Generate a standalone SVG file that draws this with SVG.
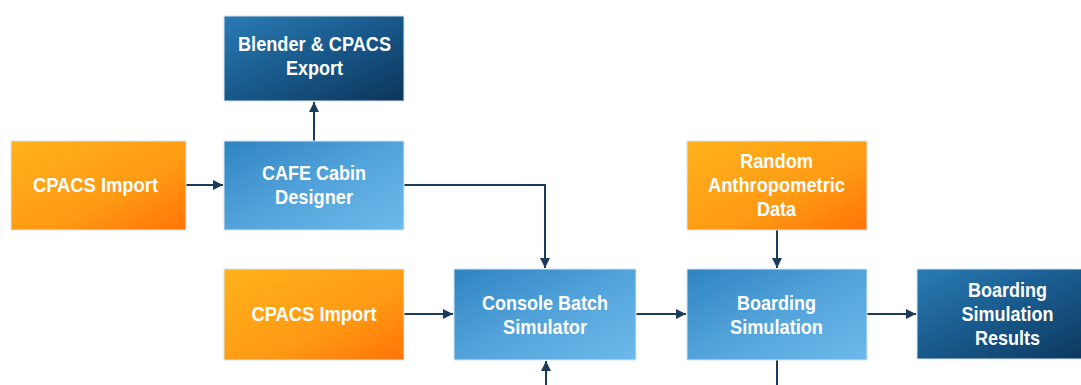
<svg xmlns="http://www.w3.org/2000/svg" width="1081" height="385" viewBox="0 0 1081 385">
<defs>
<linearGradient id="gOrange" x1="0" y1="0" x2="1" y2="1">
<stop offset="0" stop-color="#FFB21C"/>
<stop offset="0.6" stop-color="#FF9A14"/>
<stop offset="1" stop-color="#FF7408"/>
</linearGradient>
<linearGradient id="gLight" x1="0" y1="0" x2="1" y2="1">
<stop offset="0" stop-color="#2E84C0"/>
<stop offset="0.5" stop-color="#53A3DB"/>
<stop offset="1" stop-color="#6DBAEB"/>
</linearGradient>
<linearGradient id="gDark" x1="0" y1="0" x2="1" y2="1">
<stop offset="0" stop-color="#2A7CB4"/>
<stop offset="0.5" stop-color="#18588A"/>
<stop offset="1" stop-color="#0C355A"/>
</linearGradient>
<marker id="arr" viewBox="0 0 10 10" refX="10" refY="5" markerWidth="10" markerHeight="10" markerUnits="userSpaceOnUse" orient="auto">
<path d="M0,0 L10,5 L0,10 Z" fill="#1B3B5A"/>
</marker>
</defs>
<style>
.box{stroke:#d6e6f3;stroke-width:1}
.o{fill:url(#gOrange)}
.l{fill:url(#gLight)}
.d{fill:url(#gDark)}
text{font-family:"Liberation Sans",Arial,sans-serif;font-weight:bold;font-size:20.5px;fill:#ffffff;text-anchor:middle}
.c{fill:none;stroke:#1B3B5A;stroke-width:2}
</style>
<rect width="1081" height="385" fill="#ffffff"/>
<g id="connectors">
<path class="c" d="M186,185 L223,185" marker-end="url(#arr)"/>
<path class="c" d="M314,141 L314,102" marker-end="url(#arr)"/>
<path class="c" d="M404,185 L545,185 L545,268" marker-end="url(#arr)"/>
<path class="c" d="M404,314 L453,314" marker-end="url(#arr)"/>
<path class="c" d="M636,314 L686,314" marker-end="url(#arr)"/>
<path class="c" d="M777,230 L777,268" marker-end="url(#arr)"/>
<path class="c" d="M867,314 L916,314" marker-end="url(#arr)"/>
<path class="c" d="M546,385 L546,361" marker-end="url(#arr)"/>
<path class="c" d="M777,360 L777,385"/>
</g>
<g id="blender-export">
<rect class="box d" x="224" y="16" width="180" height="85"/>
<text x="314.5" y="51" textLength="153" lengthAdjust="spacingAndGlyphs">Blender &amp; CPACS</text>
<text x="314.5" y="75" textLength="57" lengthAdjust="spacingAndGlyphs">Export</text>
</g>
<g id="cpacs-import-1">
<rect class="box o" x="11" y="141" width="175" height="89"/>
<text x="95.5" y="192" textLength="125" lengthAdjust="spacingAndGlyphs">CPACS Import</text>
</g>
<g id="cafe-cabin-designer">
<rect class="box l" x="224" y="141" width="180" height="89"/>
<text x="314" y="180" textLength="104" lengthAdjust="spacingAndGlyphs">CAFE Cabin</text>
<text x="314" y="204" textLength="78" lengthAdjust="spacingAndGlyphs">Designer</text>
</g>
<g id="random-anthropometric-data">
<rect class="box o" x="687" y="141" width="180" height="89"/>
<text x="776.5" y="168" textLength="73" lengthAdjust="spacingAndGlyphs">Random</text>
<text x="776.5" y="192" textLength="137" lengthAdjust="spacingAndGlyphs">Anthropometric</text>
<text x="776.5" y="216" textLength="39" lengthAdjust="spacingAndGlyphs">Data</text>
</g>
<g id="cpacs-import-2">
<rect class="box o" x="224" y="269" width="180" height="91"/>
<text x="314" y="321" textLength="125" lengthAdjust="spacingAndGlyphs">CPACS Import</text>
</g>
<g id="console-batch-simulator">
<rect class="box l" x="454" y="269" width="182" height="91"/>
<text x="545" y="310" textLength="126" lengthAdjust="spacingAndGlyphs">Console Batch</text>
<text x="545" y="334" textLength="84" lengthAdjust="spacingAndGlyphs">Simulator</text>
</g>
<g id="boarding-simulation">
<rect class="box l" x="687" y="269" width="180" height="91"/>
<text x="776.5" y="310" textLength="79" lengthAdjust="spacingAndGlyphs">Boarding</text>
<text x="776.5" y="334" textLength="93" lengthAdjust="spacingAndGlyphs">Simulation</text>
</g>
<g id="boarding-simulation-results">
<rect class="box d" x="917" y="269" width="181" height="90"/>
<text x="1007.5" y="297" textLength="79" lengthAdjust="spacingAndGlyphs">Boarding</text>
<text x="1007.5" y="321" textLength="92" lengthAdjust="spacingAndGlyphs">Simulation</text>
<text x="1007.5" y="345" textLength="65" lengthAdjust="spacingAndGlyphs">Results</text>
</g>
</svg>
